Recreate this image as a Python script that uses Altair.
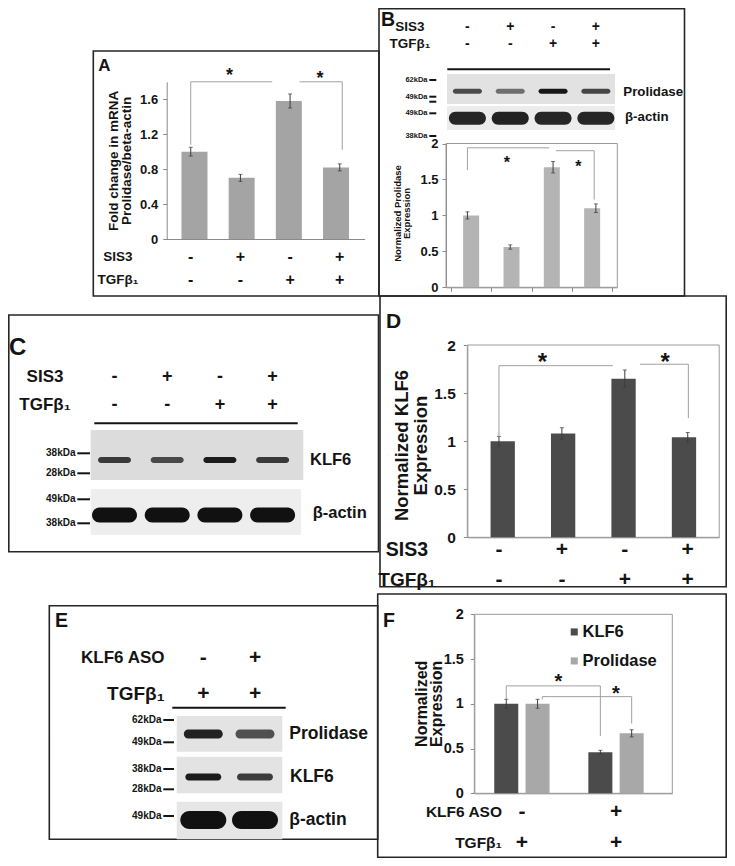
import altair as alt
import pandas as pd

FONT = "Liberation Sans, Arial, Helvetica, sans-serif"
W, H = 719, 850
INK = "#141414"
BRK = "#a0a0a0"
ERR = "#3c3c3c"
AX = "#8a8a8a"

# ---------------- data ----------------
lanes4 = [0, 1, 2, 3]
sis3 = ["-", "+", "-", "+"]
tgf = ["-", "-", "+", "+"]
rows_sis = ["SIS3", "TGFβ₁"]

a_mrna = [1.00, 0.70, 1.58, 0.82]
a_err = [0.05, 0.04, 0.08, 0.04]
b_prol = [1.00, 0.56, 1.67, 1.10]
b_err = [0.05, 0.03, 0.08, 0.06]
d_klf6 = [1.00, 1.08, 1.65, 1.04]
d_err = [0.05, 0.06, 0.09, 0.05]

f_aso = ["-", "+"]
f_tgf = ["+", "+"]
rows_aso = ["KLF6 ASO", "TGFβ₁"]
f_series = ["KLF6", "Prolidase"]
f_klf6 = [1.00, 0.46]
f_klf6_err = [0.05, 0.02]
f_prol = [1.00, 0.67]
f_prol_err = [0.05, 0.04]

# western blot band intensities (relative darkness)
b_band_prol = [0.72, 0.55, 0.97, 0.75]
b_band_actin = [0.90, 0.92, 0.90, 0.90]
c_band_klf6 = [0.80, 0.72, 0.95, 0.80]
c_band_actin = [1.00, 1.00, 1.00, 1.00]
e_lanes = [0, 1]
e_band_prol = [0.92, 0.70]
e_band_klf6 = [0.95, 0.80]
e_band_actin = [1.00, 1.00]

# significance brackets (x, y, x2, y2) in lane / value units, and stars (x, y)
a_brackets = [(0, 1.08, 0, 1.80), (0, 1.80, 1.64, 1.80), (2.19, 1.80, 3.05, 1.80), (3.05, 1.80, 3.05, 1.02)]
a_stars = [(0.78, 1.92), (2.60, 1.89)]
b_brackets = [(0, 1.63, 0, 1.94), (0, 1.94, 1.91, 1.94), (2.07, 1.90, 2.96, 1.90), (2.96, 1.90, 2.96, 1.22)]
b_stars = [(0.92, 1.79), (2.59, 1.74)]
d_brackets = [(0, 1.05, 0, 1.785), (0, 1.785, 1.81, 1.785), (2.24, 1.80, 3.01, 1.80), (3.01, 1.80, 3.01, 1.24)]
d_stars = [(0.69, 1.88), (2.64, 1.88)]
f_brackets = [(0, 1.05, 0, 1.20), (0, 1.20, 1, 1.20), (1, 1.20, 1, 0.64),
              (0.383, 1.05, 0.383, 1.08), (0.383, 1.08, 1.333, 1.08), (1.333, 1.08, 1.333, 0.78)]
f_stars = [(0.553, 1.30), (1.166, 1.17)]


# ---------------- helpers ----------------
def one():
    return pd.DataFrame({"k": [0]})


def vrect(x, x2, y, y2, **kw):
    return alt.Chart(one()).mark_rect(**kw).encode(
        x=alt.value(x), x2=alt.value(x2), y=alt.value(y), y2=alt.value(y2))


def vrule(x, x2, y, y2=None, **kw):
    enc = dict(x=alt.value(x), x2=alt.value(x2), y=alt.value(y), y2=alt.value(y if y2 is None else y2))
    return alt.Chart(one()).mark_rule(**kw).encode(**enc)


def vtext(txt, x, y, size, align="left", baseline="middle"):
    return alt.Chart(one()).mark_text(
        fontSize=size, font=FONT, fontWeight="bold", color=INK, align=align, baseline=baseline
    ).encode(x=alt.value(x), y=alt.value(y), text=alt.value(txt))


def lane_scale(rng, n=4):
    return alt.Scale(domain=[-0.5, n - 0.5], range=rng, nice=False, zero=False)


def val_scale(rng, top):
    return alt.Scale(domain=[0, top], range=rng, nice=False, zero=False)


def pill(h):
    a = 1 - h
    return (f"M{-a},{-h} L{a},{-h} A{h},{h} 0 0 1 {a},{h} "
            f"L{-a},{h} A{h},{h} 0 0 1 {-a},{-h} Z")


def yaxis(offset, values, expr, lsize, title, tsize, tx, ty, lh, pad=5):
    return alt.Axis(orient="left", offset=offset, values=values, labelExpr=expr,
                    labelFont=FONT, labelFontWeight="bold", labelFontSize=lsize, labelColor=INK,
                    labelPadding=pad, tickSize=4, tickColor=AX, domainColor=AX, grid=False,
                    title=title, titleFont=FONT, titleFontWeight="bold", titleFontSize=tsize,
                    titleColor=INK, titleX=tx - lh / 2, titleY=ty, titleAngle=270, titleAlign="center",
                    titleBaseline="middle", titleLineHeight=lh)


def xaxis(offset, ticks=False, values=None):
    kw = dict(orient="bottom", offset=offset, labels=False, ticks=ticks, tickSize=4,
              tickColor=AX, domainColor=AX, grid=False, title=None)
    if values is not None:
        kw["values"] = values
    return alt.Axis(**kw)


def bar_panel(vals, errs, xs, ys, color, bw, yax, xax):
    df = pd.DataFrame({"lane": lanes4, "v": vals, "e": errs})
    bars = alt.Chart(df).mark_bar(size=bw, color=color, orient="vertical").encode(
        x=alt.X("lane:Q", scale=xs, axis=xax), y=alt.Y("v:Q", scale=ys, axis=yax))
    base = alt.Chart(df).transform_calculate(lo="datum.v - datum.e", hi="datum.v + datum.e")
    err = base.mark_rule(color=ERR, strokeWidth=1).encode(
        x=alt.X("lane:Q", scale=xs, axis=None), y=alt.Y("lo:Q", scale=ys, axis=None), y2="hi:Q")
    caps = base.transform_fold(["lo", "hi"], as_=["end", "val"]).mark_point(
        shape="stroke", size=16, strokeWidth=1, color=ERR, filled=False).encode(
        x=alt.X("lane:Q", scale=xs, axis=None), y=alt.Y("val:Q", scale=ys, axis=None))
    return [bars, err, caps]


def brackets(segs, stars, xs, ys, star_size):
    dfb = pd.DataFrame(segs, columns=["x", "y", "x2", "y2"])
    br = alt.Chart(dfb).mark_rule(color=BRK, strokeWidth=1).encode(
        x=alt.X("x:Q", scale=xs, axis=None), x2="x2:Q",
        y=alt.Y("y:Q", scale=ys, axis=None), y2="y2:Q")
    dfs = pd.DataFrame(stars, columns=["x", "y"])
    st = alt.Chart(dfs).mark_text(text="*", fontSize=star_size, font=FONT, fontWeight="bold",
                                  color=INK, baseline="middle", dy=0.27 * star_size).encode(
        x=alt.X("x:Q", scale=xs, axis=None), y=alt.Y("y:Q", scale=ys, axis=None))
    return [br, st]


def header(xfield, groups, row_vals, row_names, xs, rows_y, sign_size, lab_x, lab_sizes, lab_align):
    recs = []
    for r, vals in zip(row_names, row_vals):
        for g, s in zip(groups, vals):
            recs.append({xfield.split(":")[0]: g, "row": r, "sign": s})
    df = pd.DataFrame(recs)
    ysc = alt.Scale(type="point", domain=row_names, range=rows_y, padding=0)
    out = [alt.Chart(df).mark_text(fontSize=sign_size, font=FONT, fontWeight="bold", color=INK,
                                   baseline="middle").encode(
        x=alt.X(xfield, scale=xs, axis=None), y=alt.Y("row:N", scale=ysc, axis=None), text="sign:N")]
    for r, fs in zip(row_names, lab_sizes):
        out.append(alt.Chart(pd.DataFrame({"row": [r]})).mark_text(
            fontSize=fs, font=FONT, fontWeight="bold", color=INK, align=lab_align, baseline="middle"
        ).encode(x=alt.value(lab_x), y=alt.Y("row:N", scale=ysc, axis=None), text="row:N"))
    return out


def blot_bands(lanes, intens, blot, blot_names, xs, blot_y, width, height):
    df = pd.DataFrame({"lane": lanes, "i": intens, "blot": [blot] * len(lanes)})
    ysc = alt.Scale(type="point", domain=blot_names, range=blot_y, padding=0)
    return alt.Chart(df).mark_point(shape=pill(height / width), size=width * width, filled=True,
                                    color="#111111", strokeWidth=0).encode(
        x=alt.X("lane:Q", scale=xs, axis=None),
        y=alt.Y("blot:N", scale=ysc, axis=None),
        opacity=alt.Opacity("i:Q", scale=alt.Scale(domain=[0, 1], range=[0, 1]), legend=None))


def marker(txt, xr, y, size, d0, d1):
    return [vtext(txt, xr, y, size, align="right"), vrule(d0, d1, y, strokeWidth=2, color=INK)]


layers = []

# ---------------- panel frames ----------------
for bx in [(85.3, 371, 43, 288), (371, 676.5, 0.8, 288), (0.8, 370.5, 307, 543.7),
           (372, 718.2, 288, 578.7), (41.3, 369.7, 597.7, 831.3), (369.7, 718.2, 586, 849.2)]:
    layers.append(vrect(*bx, filled=False, stroke="#262626", strokeWidth=1.6))

# ---------------- Panel A ----------------
XA = lane_scale([157.9, 356.6])
YA = val_scale([231, 73.8], 1.8)
layers += bar_panel(a_mrna, a_err, XA, YA, "#a4a4a4", 26,
                    yaxis(-158.7, [0, 0.4, 0.8, 1.2, 1.6],
                          "datum.value == 0 ? '0' : format(datum.value, '.1f')", 13,
                          ["Fold change in mRNA", "Prolidase/beta-actin"], 13.5, -46.7, 152.3, 13.4),
                    xaxis(-619))
layers += brackets(a_brackets, a_stars, XA, YA, 18)
layers += header("lane:Q", lanes4, [sis3, tgf], rows_sis, XA, [248.7, 272], 16, 110, [13.5, 13.5], "center")
layers.append(vtext("A", 90.3, 62.7, 17, baseline="alphabetic"))

# ---------------- Panel B ----------------
XB = lane_scale([438, 609.3])
YB = val_scale([279.3, 135.5], 2)
layers.append(vrect(438, 609.3, 135.5, 279.3, filled=False, stroke="#9a9a9a", strokeWidth=1))
layers += bar_panel(b_prol, b_err, XB, YB, "#b4b4b4", 16,
                    yaxis(-438, [0, 0.5, 1, 1.5, 2], "format(datum.value, '~g')", 13,
                          ["Normalized Prolidase", "Expression"], 9.5, -43.8, 205, 9.5, pad=4),
                    xaxis(-570.7, ticks=True, values=[-0.5, 0.5, 1.5, 2.5, 3.5]))
layers += brackets(b_brackets, b_stars, XB, YB, 16)
layers += header("lane:Q", lanes4, [sis3, tgf], rows_sis, XB, [18.5, 36], 14, 402, [13.5, 13.5], "center")
layers.append(vrule(439.3, 602, 61.3, strokeWidth=2, color=INK))
layers.append(vrect(439, 607, 66, 96, color="#e2e2e2"))
layers.append(vrect(439, 607, 98, 122, color="#ececec"))
b_blots = ["Prolidase", "β-actin"]
layers.append(blot_bands(lanes4, b_band_prol, "Prolidase", b_blots, XB, [83.3, 110.3], 29, 5))
layers.append(blot_bands(lanes4, b_band_actin, "β-actin", b_blots, XB, [83.3, 110.3], 37, 13))
for t, y in [("62kDa", 72), ("49kDa", 88.7), ("49kDa", 105.3), ("38kDa", 128)]:
    layers += marker(t, 419.5, y, 7.5, 421.3, 428.3)
layers.append(vrule(421.3, 428.3, 93.7, strokeWidth=2, color=INK))
layers.append(vtext("Prolidase", 615.3, 83.7, 13.3))
layers.append(vtext("β-actin", 617, 109, 13.3))
layers.append(vtext("B", 373, 18, 19.5, baseline="alphabetic"))

# ---------------- Panel C ----------------
XC = lane_scale([80.15, 290.95])
layers += header("lane:Q", lanes4, [sis3, tgf], rows_sis, XC, [368.7, 397], 18, 37, [17, 17], "center")
layers.append(vrule(86.3, 289.7, 415.3, strokeWidth=2, color=INK))
layers.append(vrect(82.7, 295.3, 422, 472, color="#dcdcdc"))
layers.append(vrect(82.7, 293, 481, 527, color="#eeeeee"))
c_blots = ["KLF6", "β-actin"]
layers.append(blot_bands(lanes4, c_band_klf6, "KLF6", c_blots, XC, [452, 507], 33, 6))
layers.append(blot_bands(lanes4, c_band_actin, "β-actin", c_blots, XC, [452, 507], 45, 15))
for t, y in [("38kDa", 445.3), ("28kDa", 465.3), ("49kDa", 491.3), ("38kDa", 515.3)]:
    layers += marker(t, 67.5, y, 10, 69.3, 82)
layers.append(vtext("KLF6", 302, 452, 16.5))
layers.append(vtext("β-actin", 304.7, 505.3, 16.5))
layers.append(vtext("C", 1, 347, 24, baseline="alphabetic"))

# ---------------- Panel D ----------------
XD = lane_scale([459.5, 711.2])
YD = val_scale([529.3, 337], 2)
layers.append(vrect(459.3, 711.2, 337, 529.3, filled=False, stroke="#9a9a9a", strokeWidth=1))
layers += bar_panel(d_klf6, d_err, XD, YD, "#4b4b4b", 24.3,
                    yaxis(-459.3, [0, 0.5, 1, 1.5, 2], "format(datum.value, '~g')", 15.5,
                          ["Normalized KLF6", "Expression"], 18.5, -56.4, 437, 18.5, pad=8),
                    xaxis(-320.7))
layers += brackets(d_brackets, d_stars, XD, YD, 24)
layers += header("lane:Q", lanes4, [sis3, tgf], rows_sis, XD, [542, 572], 21, 399, [19.5, 19], "center")
layers.append(vtext("D", 378, 320.3, 21, baseline="alphabetic"))

# ---------------- Panel E ----------------
XE = lane_scale([169.45, 272.85], n=2)
layers += header("lane:Q", e_lanes, [f_aso, f_tgf], rows_aso, XE, [650, 686], 21, 156.5, [17, 19], "right")
layers.append(vrule(164.3, 277.7, 699.7, strokeWidth=2, color=INK))
layers.append(vrect(168.7, 274.3, 708, 743.7, color="#e3e3e3"))
layers.append(vrect(168.7, 274.3, 748.7, 785.3, color="#e3e3e3"))
layers.append(vrect(168.7, 274.3, 793.7, 831.3, color="#e6e6e6"))
e_blots = ["Prolidase", "KLF6", "β-actin"]
layers.append(blot_bands(e_lanes, e_band_prol, "Prolidase", e_blots, XE, [726, 812], 39, 9))
layers.append(blot_bands(e_lanes, e_band_klf6, "KLF6", e_blots, XE, [726, 812], 36, 7))
layers.append(blot_bands(e_lanes, e_band_actin, "β-actin", e_blots, XE, [726, 812], 46, 18))
for t, y in [("62kDa", 712), ("49kDa", 734.3), ("38kDa", 761), ("28kDa", 781.3), ("49kDa", 808)]:
    layers += marker(t, 153.5, y, 10, 155.3, 166)
layers.append(vtext("Prolidase", 281.3, 726, 17.5))
layers.append(vtext("KLF6", 282, 768.7, 17.5))
layers.append(vtext("β-actin", 281.3, 812, 17.5))
layers.append(vtext("E", 47, 619, 19.5, baseline="alphabetic"))

# ---------------- Panel F ----------------
XF = alt.Scale(type="band", domain=f_aso, range=[466.3, 664.3], paddingInner=0.3347,
               paddingOuter=0.2194, align=0.395)
XOF = alt.Scale(type="band", domain=f_series, paddingInner=0.233, paddingOuter=0.1165)
YF = val_scale([785.3, 606.3], 2)
XFB = alt.Scale(domain=[0, 1], range=[498.25, 592.35], nice=False, zero=False)
dfF = pd.DataFrame({"aso": f_aso * 2, "series": [f_series[0]] * 2 + [f_series[1]] * 2,
                    "v": f_klf6 + f_prol, "e": f_klf6_err + f_prol_err})
layers.append(vrect(466.3, 664.3, 606.3, 785.3, filled=False, stroke="#9a9a9a", strokeWidth=1))
layers.append(alt.Chart(dfF).mark_bar().encode(
    x=alt.X("aso:N", scale=XF, axis=xaxis(-64.7)),
    xOffset=alt.XOffset("series:N", scale=XOF),
    y=alt.Y("v:Q", scale=YF, axis=yaxis(-466.3, [0, 0.5, 1, 1.5, 2], "format(datum.value, '~g')", 14.5,
                                        ["Normalized", "Expression"], 16, -45.1, 695.3, 15.5, pad=7)),
    color=alt.Color("series:N", scale=alt.Scale(domain=f_series, range=["#4b4b4b", "#a8a8a8"]),
                    legend=alt.Legend(orient="none", legendX=558, legendY=615.7, direction="vertical",
                                      title=None, symbolType="square", symbolSize=50, symbolStrokeWidth=0,
                                      labelFont=FONT, labelFontSize=16.5, labelFontWeight="bold",
                                      labelColor=INK, rowPadding=12, labelOffset=0, padding=0)),
))
baseF = alt.Chart(dfF).transform_calculate(lo="datum.v - datum.e", hi="datum.v + datum.e")
layers.append(baseF.mark_rule(color=ERR, strokeWidth=1).encode(
    x=alt.X("aso:N", scale=XF, axis=None), xOffset=alt.XOffset("series:N", scale=XOF),
    y=alt.Y("lo:Q", scale=YF, axis=None), y2="hi:Q"))
layers.append(baseF.transform_fold(["lo", "hi"], as_=["end", "val"]).mark_point(
    shape="stroke", size=16, strokeWidth=1, color=ERR, filled=False).encode(
    x=alt.X("aso:N", scale=XF, axis=None), xOffset=alt.XOffset("series:N", scale=XOF),
    y=alt.Y("val:Q", scale=YF, axis=None)))
layers += brackets(f_brackets, f_stars, XFB, YF, 20)
layers += header("aso:N", f_aso, [f_aso, f_tgf], rows_aso, XF, [803.7, 835.3], 21, 494, [15.5, 15.5], "right")
layers.append(vtext("F", 375, 618.7, 19.5, baseline="alphabetic"))

chart = alt.layer(*layers).properties(
    width=W, height=H, padding=0, background="white",
    autosize=alt.AutoSizeParams(type="none"),
).resolve_scale(
    x="independent", y="independent", color="independent", opacity="independent", xOffset="independent"
).resolve_axis(x="independent", y="independent").configure_view(stroke=None)

chart.save("out.html", embed_options={"renderer": "svg", "actions": False})
